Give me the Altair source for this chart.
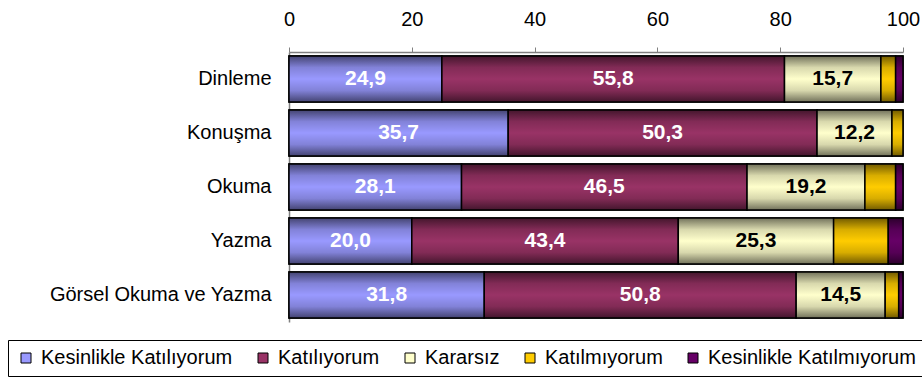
import altair as alt
import pandas as pd

categories = ["Dinleme", "Konuşma", "Okuma", "Yazma", "Görsel Okuma ve Yazma"]
series = ["Kesinlikle Katılıyorum", "Katılıyorum", "Kararsız", "Katılmıyorum", "Kesinlikle Katılmıyorum"]
colors = ["#9999FF", "#993366", "#FFFFCC", "#FFCC00", "#660066"]

kesinlikle_katiliyorum = [24.9, 35.7, 28.1, 20.0, 31.8]
katiliyorum = [55.8, 50.3, 46.5, 43.4, 50.8]
kararsiz = [15.7, 12.2, 19.2, 25.3, 14.5]
katilmiyorum = [2.4, 1.8, 5.0, 8.9, 2.2]
kesinlikle_katilmiyorum = [1.2, 0.0, 1.2, 2.4, 0.7]

label_series = ["Kesinlikle Katılıyorum", "Katılıyorum", "Kararsız"]
ticks = [0, 20, 40, 60, 80, 100]

values = [kesinlikle_katiliyorum, katiliyorum, kararsiz, katilmiyorum, kesinlikle_katilmiyorum]
rows = []
for si, (s, vals) in enumerate(zip(series, values)):
    for c, v in zip(categories, vals):
        if v > 0:
            rows.append({"category": c, "series": s, "value": v, "order": si,
                         "label": f"{v:.1f}".replace(".", ",")})
df = pd.DataFrame(rows)

FONT = "Liberation Sans"


def shade(hex_color, f):
    h = hex_color.lstrip("#")
    r, g, b = (int(h[i:i + 2], 16) for i in (0, 2, 4))
    return "#%02x%02x%02x" % (int(r * f), int(g * f), int(b * f))


def gradient(col):
    return alt.Gradient(
        gradient="linear", x1=0, y1=0, x2=0, y2=1,
        stops=[
            alt.GradientStop(color=shade(col, 0.45), offset=0),
            alt.GradientStop(color=shade(col, 0.85), offset=0.25),
            alt.GradientStop(color=col, offset=0.5),
            alt.GradientStop(color=shade(col, 0.85), offset=0.75),
            alt.GradientStop(color=shade(col, 0.45), offset=1),
        ],
    )


x_scale = alt.Scale(domain=[0, 100], nice=False)
y_scale = alt.Scale(domain=categories, paddingInner=0.15, paddingOuter=0.075)

base = alt.Chart(df).transform_stack(
    stack="value", groupby=["category"], as_=["x0", "x1"],
    sort=[alt.SortField("order", order="ascending")]
).transform_calculate(mid="(datum.x0 + datum.x1) / 2")

y_enc = alt.Y("category:N", scale=y_scale, title=None,
              axis=alt.Axis(labelFont=FONT, labelFontSize=20, labelColor="black",
                            ticks=False, labelPadding=18, domainColor="#808080",
                            domainWidth=1.5, labelLimit=0))
x_enc = alt.X("x0:Q", scale=x_scale, title=None,
              axis=alt.Axis(orient="top", values=ticks, grid=False, labelFont=FONT,
                            labelFontSize=20, labelColor="black", tickColor="#808080",
                            tickSize=5, labelPadding=18, domainColor="#808080",
                            domainWidth=1.5, labelFlush=False))

flat = base.mark_bar(stroke="black", strokeWidth=1.5).encode(
    y=y_enc, x=x_enc, x2="x1:Q",
    color=alt.Color("series:N", scale=alt.Scale(domain=series, range=colors),
                    legend=alt.Legend(orient="none", legendX=-281, legendY=288,
                                      direction="horizontal", title=None,
                                      strokeColor="black", fillColor="white", padding=8,
                                      symbolType="square", symbolSize=100,
                                      symbolStrokeColor="black", symbolStrokeWidth=1,
                                      symbolOpacity=1, labelFont=FONT, labelFontSize=20,
                                      labelColor="black", labelOffset=5, columnPadding=20,
                                      labelLimit=0)),
)

layers = [flat]
for s, col in zip(series, colors):
    layers.append(
        base.transform_filter(alt.datum.series == s).mark_bar(
            fill=gradient(col), stroke="black", strokeWidth=1.5
        ).encode(y=alt.Y("category:N", scale=y_scale), x=alt.X("x0:Q", scale=x_scale), x2="x1:Q")
    )

for s, tc in zip(label_series, ["white", "white", "black"]):
    layers.append(
        base.transform_filter(alt.datum.series == s).mark_text(
            font=FONT, fontSize=21, fontWeight="bold", color=tc, baseline="middle", align="center"
        ).encode(y=alt.Y("category:N", scale=y_scale), x=alt.X("mid:Q", scale=x_scale),
                 text="label:N")
    )

chart = alt.layer(*layers).properties(
    width=614, height=270,
    autosize=alt.AutoSizeParams(type="none"),
    padding={"left": 289, "top": 52, "right": 19, "bottom": 62},
    background="white",
).configure_view(stroke=None)

chart.save("out.html", embed_options={"renderer": "svg", "actions": False})
